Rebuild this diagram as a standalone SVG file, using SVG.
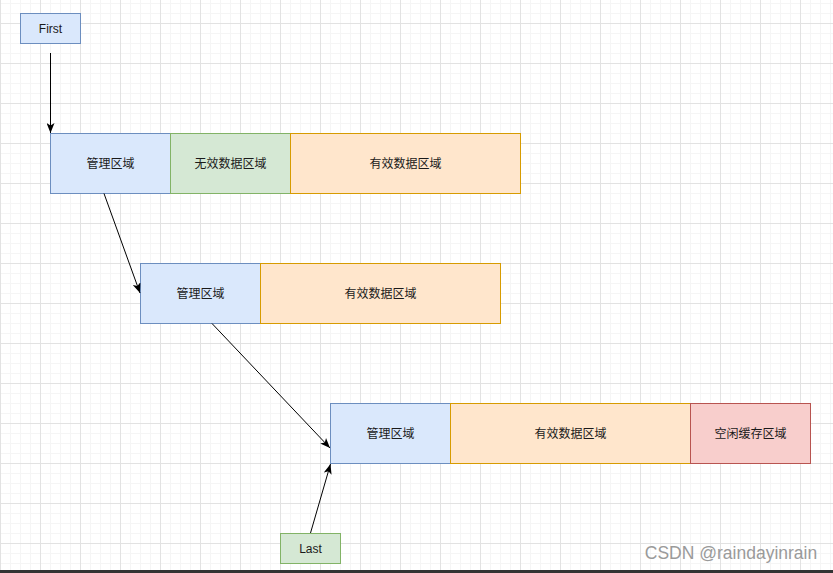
<svg xmlns="http://www.w3.org/2000/svg" width="833" height="573" viewBox="0 0 833 573">
<defs>
<pattern id="minor" width="10" height="10" patternUnits="userSpaceOnUse" x="0" y="3">
<path d="M0.5,0 V10 M0,0.5 H10" fill="none" stroke="#f5f5f5" stroke-width="1"/>
</pattern>
<pattern id="major" width="40" height="40" patternUnits="userSpaceOnUse" x="0" y="23">
<path d="M0.5,0 V40 M0,0.5 H40" fill="none" stroke="#e2e2e2" stroke-width="1"/>
</pattern>
<marker id="arr" viewBox="0 0 10 8" refX="10" refY="4" markerWidth="10" markerHeight="8" markerUnits="userSpaceOnUse" orient="auto">
<path d="M0,0 L10,4 L0,8 L2.5,4 Z" fill="#000"/>
</marker>
<style>
text{font-family:"Liberation Sans","Noto Sans CJK SC",sans-serif;font-size:12px;fill:#1a1a1a;text-anchor:middle;dominant-baseline:central}
.blue{fill:#dae8fc;stroke:#6c8ebf}
.green{fill:#d5e8d4;stroke:#82b366}
.orange{fill:#ffe6cc;stroke:#d79b00}
.red{fill:#f8cecc;stroke:#b85450}
.edge{fill:none;stroke:#000;stroke-width:1;marker-end:url(#arr)}
</style>
</defs>
<rect width="833" height="573" fill="#ffffff"/>
<rect width="833" height="573" fill="url(#minor)"/>
<rect width="833" height="573" fill="url(#major)"/>

<g id="first"><rect class="blue" x="20.5" y="13.5" width="60" height="30"/><text x="50.5" y="28.5">First</text></g>

<g id="r1-mgmt"><rect class="blue" x="50.5" y="133.5" width="120" height="60"/><text x="110.5" y="163.5">管理区域</text></g>
<g id="r1-invalid"><rect class="green" x="170.5" y="133.5" width="120" height="60"/><text x="230.5" y="163.5">无效数据区域</text></g>
<g id="r1-valid"><rect class="orange" x="290.5" y="133.5" width="230" height="60"/><text x="405.5" y="163.5">有效数据区域</text></g>

<g id="r2-mgmt"><rect class="blue" x="140.5" y="263.5" width="120" height="60"/><text x="200.5" y="293.5">管理区域</text></g>
<g id="r2-valid"><rect class="orange" x="260.5" y="263.5" width="240" height="60"/><text x="380.5" y="293.5">有效数据区域</text></g>

<g id="r3-mgmt"><rect class="blue" x="330.5" y="403.5" width="120" height="60"/><text x="390.5" y="433.5">管理区域</text></g>
<g id="r3-valid"><rect class="orange" x="450.5" y="403.5" width="240" height="60"/><text x="570.5" y="433.5">有效数据区域</text></g>
<g id="r3-free"><rect class="red" x="690.5" y="403.5" width="120" height="60"/><text x="750.5" y="433.5">空闲缓存区域</text></g>

<g id="last"><rect class="green" x="280.5" y="533.5" width="60" height="30"/><text x="310.5" y="548.5">Last</text></g>

<g id="connectors">
<path class="edge" d="M50.5,53 L50.5,133"/>
<path class="edge" d="M104,193.5 L140,293"/>
<path class="edge" d="M212,323.5 L330,448"/>
<path class="edge" d="M310.5,533 L330.5,464"/>
</g>

<text x="731" y="553" style="font-size:17.5px;fill:#9a9a9a">CSDN @raindayinrain</text>
<rect x="0" y="570" width="833" height="3" fill="#333333"/>
</svg>
